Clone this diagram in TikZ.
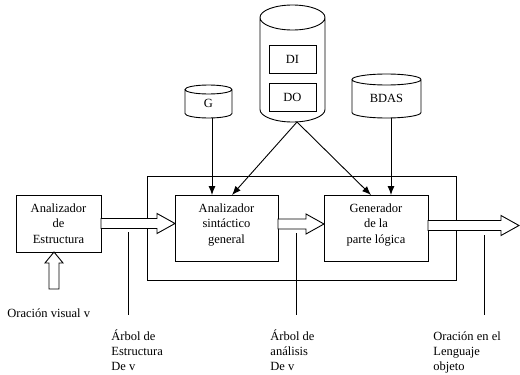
\documentclass[tikz,border=0pt]{standalone}
\usepackage{fontspec}
\setmainfont{Liberation Serif}
\usetikzlibrary{arrows.meta,calc}

% outline of a data store round a body node: node, x radius, y radius
\newcommand\dbdraw[3]{%
  \draw (#1.north west) -- ([yshift=#3]#1.south west)
    arc[start angle=180,end angle=360,x radius=#2,y radius=#3]
    -- (#1.north east)
    arc[start angle=0,end angle=360,x radius=#2,y radius=#3];}

% wide hollow arrow, left to right
\newcommand\fatflow[2]{%
  \filldraw[fill=white] let \p1=(#1),\p2=(#2) in
    (\x1,\y1+5pt) -- (\x2-18pt,\y1+5pt) -- (\x2-18pt,\y1+10pt) -- (\x2,\y1)
    -- (\x2-18pt,\y1-10pt) -- (\x2-18pt,\y1-5pt) -- (\x1,\y1-5pt) -- cycle;}

\begin{document}
\begin{tikzpicture}[
  x=1pt,y=-1pt,line width=0.9pt,
  font=\fontsize{12.5}{15.5}\selectfont,
  block/.style={draw,align=center,inner sep=0pt,outer sep=0pt},
  store/.style={align=center,inner sep=0pt,outer sep=0pt},
  flow/.style={-{Latex[length=9pt,width=7pt]}},
  tag/.style={align=left,anchor=base west,inner sep=0pt,font=\fontsize{12.5}{15}\selectfont}
]
\useasboundingbox (0,0) rectangle (520,375);

\node[block,minimum width=309pt,minimum height=104pt] (frame) at (301.5,228) {};
\node[block,minimum width=85pt,minimum height=57pt] (aest) at (58.5,223.5) {Analizador\\de\\Estructura};
\node[block,minimum width=103pt,minimum height=66pt,text depth=9pt] (asin) at (226.5,228) {Analizador\\sintáctico\\general};
\node[block,minimum width=104pt,minimum height=66pt,text depth=9pt] (gen) at (376,228) {Generador\\de la\\parte lógica};

% stores
\node[store,minimum width=47pt,minimum height=28.5pt] (g) at (208.5,103.75) {G};
\dbdraw{g}{23.5pt}{4.5pt}
\node[store,minimum width=65pt,minimum height=104.5pt] (dd) at (292.5,69.75) {};
\dbdraw{dd}{32.5pt}{12.5pt}
\node[block,minimum width=47pt,minimum height=28pt] (di) at (292.5,59) {DI};
\node[block,minimum width=47pt,minimum height=28pt] (do) at (292.5,97) {DO};
\node[store,minimum width=69pt,minimum height=38.5pt] (bdas) at (386.5,98.75) {BDAS};
\dbdraw{bdas}{34.5pt}{5.5pt}

\draw[flow] ([xshift=3.5pt]g.south) -- ([xshift=3.5pt]g.south |- asin.north);
\draw[flow] ([xshift=4.5pt]dd.south) -- ([xshift=5.5pt]asin.north);
\draw[flow] ([xshift=4.5pt]dd.south) -- ([xshift=-5pt]gen.north);
\draw[flow] ([xshift=4.5pt]bdas.south) -- ([xshift=4.5pt]bdas.south |- gen.north);

% hollow arrows
\coordinate (out) at (519,225);
\fatflow{aest.east}{asin.west}
\fatflow{[yshift=4pt]asin.east}{gen.west}
\fatflow{[yshift=2.5pt]gen.east}{out}
\coordinate (src) at (54,289);
\filldraw[fill=white] let \p1=(src),\p2=([xshift=-4.5pt]aest.south) in
  (\x1-5pt,\y1) -- (\x1-5pt,\y2-11pt) -- (\x1-9pt,\y2-11pt) -- (\x1,\y2)
  -- (\x1+9pt,\y2-11pt) -- (\x1+5pt,\y2-11pt) -- (\x1+5pt,\y1) -- cycle;

% taps
\coordinate (t1) at (128,232);
\coordinate (b1) at (128,315);
\coordinate (t2) at (296,233);
\coordinate (b2) at (296,315);
\coordinate (t3) at (484,235);
\coordinate (b3) at (484,315);
\draw (t1) -- (b1);
\draw (t2) -- (b2);
\draw (t3) -- (b3);

\node[tag] (vis) at (7,317) {Oración visual v};
\node[tag] (lab1) at (111,370.5) {Árbol de\\Estructura\\De v};
\node[tag] (lab2) at (270,370.5) {Árbol de\\análisis\\De v};
\node[tag] (lab3) at (433,370.5) {Oración en el\\Lenguaje\\objeto};
\end{tikzpicture}
\end{document}
